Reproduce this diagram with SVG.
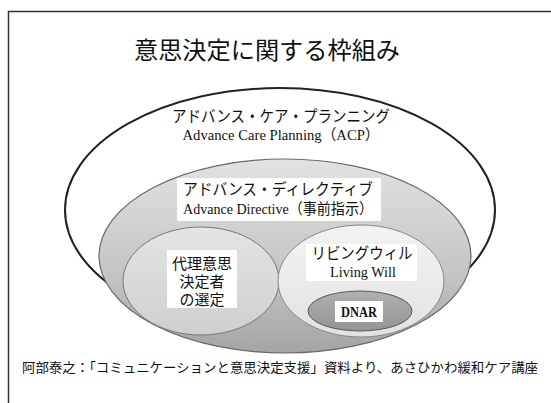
<svg xmlns="http://www.w3.org/2000/svg" width="551" height="403" viewBox="0 0 551 403">
<defs>
<linearGradient id="gAD" x1="0" y1="0" x2="0" y2="1">
<stop offset="0" stop-color="#e2e2e2"/>
<stop offset="0.6" stop-color="#c4c4c4"/>
<stop offset="1" stop-color="#a4a4a4"/>
</linearGradient>
<linearGradient id="gL" x1="0" y1="0" x2="0" y2="1">
<stop offset="0" stop-color="#e4e4e4"/>
<stop offset="1" stop-color="#cfcfcf"/>
</linearGradient>
<linearGradient id="gR" x1="0" y1="0" x2="0" y2="1">
<stop offset="0" stop-color="#f3f3f3"/>
<stop offset="1" stop-color="#e2e2e2"/>
</linearGradient>
<linearGradient id="gD" x1="0" y1="0" x2="0" y2="1">
<stop offset="0" stop-color="#b0b0b0"/>
<stop offset="1" stop-color="#949494"/>
</linearGradient>
</defs>
<style>
.jp{font-family:"Noto Sans CJK JP","Noto Sans",sans-serif;fill:#111;}
.en{font-family:"Liberation Serif","Noto Sans CJK JP",serif;fill:#111;}
.lbl{fill:#fff;}
</style>
<rect width="551" height="403" fill="#fff"/>
<g id="frame" fill="none" stroke="#333" stroke-width="1.5">
<path d="M8.5,403 V11.5 H551"/>
</g>
<text class="jp" x="267" y="59" font-size="24" text-anchor="middle" textLength="266" lengthAdjust="spacingAndGlyphs">意思決定に関する枠組み</text>
<g id="acp">
<ellipse cx="280" cy="210" rx="215" ry="122" fill="#fff" stroke="#222" stroke-width="2"/>
<text class="jp" x="281" y="122" font-size="16" text-anchor="middle" textLength="218" lengthAdjust="spacingAndGlyphs">アドバンス・ケア・プランニング</text>
<text class="en" x="281" y="140" font-size="15" text-anchor="middle" textLength="197" lengthAdjust="spacingAndGlyphs">Advance Care Planning（ACP）</text>
</g>
<g id="ad">
<ellipse cx="285" cy="256" rx="186" ry="97" fill="url(#gAD)" stroke="#6a6a6a" stroke-width="1.2"/>
<rect class="lbl" x="177" y="178" width="204" height="43"/>
<text class="jp" x="278" y="195" font-size="16" text-anchor="middle" textLength="190" lengthAdjust="spacingAndGlyphs">アドバンス・ディレクティブ</text>
<text class="en" x="278" y="214" font-size="15" text-anchor="middle" textLength="190" lengthAdjust="spacingAndGlyphs">Advance Directive（事前指示）</text>
</g>
<g id="proxy">
<ellipse cx="201" cy="281" rx="78" ry="54" fill="url(#gL)" stroke="#777" stroke-width="1"/>
<rect class="lbl" x="167" y="250" width="70" height="58"/>
<text class="jp" x="202" y="269" font-size="15" text-anchor="middle" textLength="60" lengthAdjust="spacingAndGlyphs">代理意思</text>
<text class="jp" x="202" y="287" font-size="15" text-anchor="middle" textLength="45" lengthAdjust="spacingAndGlyphs">決定者</text>
<text class="jp" x="202" y="305" font-size="15" text-anchor="middle" textLength="45" lengthAdjust="spacingAndGlyphs">の選定</text>
</g>
<g id="lw">
<ellipse cx="361" cy="281" rx="83" ry="56" fill="url(#gR)" stroke="#888" stroke-width="1"/>
<rect class="lbl" x="306" y="244" width="111" height="37"/>
<text class="jp" x="362" y="259" font-size="16" text-anchor="middle" textLength="101" lengthAdjust="spacingAndGlyphs">リビングウィル</text>
<text class="en" x="363" y="277" font-size="15" text-anchor="middle" textLength="66" lengthAdjust="spacingAndGlyphs">Living Will</text>
</g>
<g id="dnar">
<ellipse cx="360" cy="311" rx="52" ry="20" fill="url(#gD)" stroke="#5a5a5a" stroke-width="1"/>
<rect class="lbl" x="335" y="301" width="48" height="21"/>
<text class="en" x="359" y="317" font-size="14" font-weight="bold" text-anchor="middle" textLength="36" lengthAdjust="spacingAndGlyphs">DNAR</text>
</g>
<g id="connectors"/>
<text class="jp" x="22" y="372" font-size="13" textLength="516" lengthAdjust="spacingAndGlyphs">阿部泰之：「コミュニケーションと意思決定支援」資料より、あさひかわ緩和ケア講座</text>
</svg>
